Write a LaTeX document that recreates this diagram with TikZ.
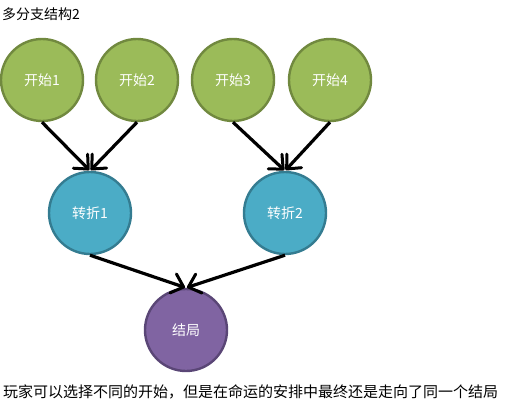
\documentclass[tikz,border=0pt]{standalone}
\usepackage{fontspec}
\setmainfont{Noto Sans CJK SC}
\usepackage{tikz}
\usetikzlibrary{arrows.meta}
\definecolor{startfill}{RGB}{155, 187, 89}
\definecolor{startline}{RGB}{113, 137, 63}
\definecolor{turnfill}{RGB}{75, 172, 198}
\definecolor{turnline}{RGB}{52, 124, 145}
\definecolor{endfill}{RGB}{128, 100, 162}
\definecolor{endline}{RGB}{90, 70, 118}

\tikzset{
  ball/.style={circle, minimum size=82pt, inner sep=0pt, line width=2.4pt,
    text=white, font=\fontsize{14}{16}\selectfont},
  startball/.style={ball, fill=startfill, draw=startline},
  turnball/.style={ball, fill=turnfill, draw=turnline},
  endball/.style={ball, fill=endfill, draw=endline},
  flow/.style={-{Straight Barb[length=11pt, width=20pt, line width=3pt, round]}, line width=3.2pt, black, shorten >=1pt}
}

\begin{document}
\begin{tikzpicture}[x=1pt, y=-1pt]
  \useasboundingbox (0,0) rectangle (510,418);

  % Title
  \node[anchor=west, inner sep=0pt, font=\fontsize{14}{16}\selectfont] (title) at (2,14) {多分支结构2};

  % Starting points
  \node[startball] (start1) at (42,80)  {开始1};
  \node[startball] (start2) at (137,80) {开始2};
  \node[startball] (start3) at (233,80) {开始3};
  \node[startball] (start4) at (330,80) {开始4};

  % Turning points
  \node[turnball] (turn1) at (90,213)  {转折1};
  \node[turnball] (turn2) at (285,213) {转折2};

  % Ending
  \node[endball] (ending) at (186,330) {结局};

  % Connectors
  \draw[flow] (start1.south) -- (turn1.north);
  \draw[flow] (start2.south) -- (turn1.north);
  \draw[flow] (start3.south) -- (turn2.north);
  \draw[flow] (start4.south) -- (turn2.north);
  \draw[flow] (turn1.south) -- (ending.north);
  \draw[flow] (turn2.south) -- (ending.north);

  % Caption
  \node[anchor=west, inner sep=0pt, font=\fontsize{15}{17}\selectfont] (caption) at (3,392)
    {玩家可以选择不同的开始，但是在命运的安排中最终还是走向了同一个结局};
\end{tikzpicture}
\end{document}
